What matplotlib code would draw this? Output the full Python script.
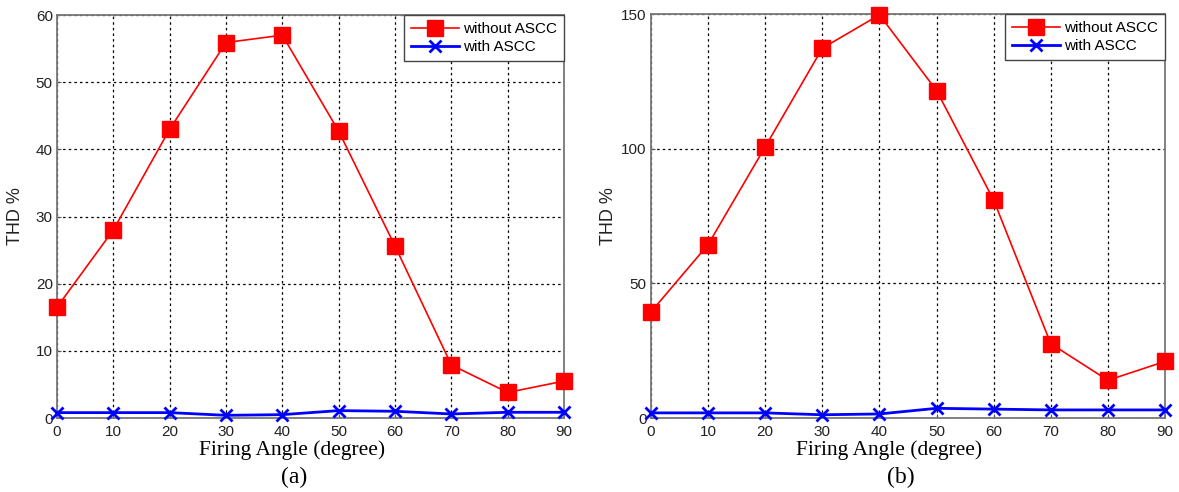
import matplotlib
matplotlib.use("Agg")
import matplotlib.pyplot as plt

angles = [0, 10, 20, 30, 40, 50, 60, 70, 80, 90]
a_without = [16.5, 28.0, 43.0, 55.9, 57.0, 42.7, 25.6, 7.9, 3.8, 5.5]
a_with = [0.8, 0.8, 0.8, 0.4, 0.5, 1.1, 1.0, 0.6, 0.85, 0.85]
b_without = [39.4, 64.4, 100.7, 137.3, 149.7, 121.6, 80.9, 27.6, 14.0, 21.0]
b_with = [1.9, 1.9, 1.9, 1.2, 1.5, 3.6, 3.3, 3.0, 3.0, 3.0]
a_yticks = [0, 10, 20, 30, 40, 50, 60]
b_yticks = [0, 50, 100, 150]
labels = ["without ASCC", "with ASCC"]
captions = ["(a)", "(b)"]
xlabel = "Firing Angle (degree)"
ylabel = "THD %"

sans = ["Liberation Sans", "DejaVu Sans"]
serif = ["Liberation Serif", "DejaVu Serif"]

fig = plt.figure(figsize=(11.79, 4.92), dpi=100)
axes = [fig.add_axes([0.04835, 0.1504, 0.43003, 0.8191]),
        fig.add_axes([0.55216, 0.1504, 0.43596, 0.8211])]

panels = [(a_without, a_with, a_yticks, 60),
          (b_without, b_with, b_yticks, 150)]
caption_x = [0.2494, 0.7642]

for ax, (wo, wi, yt, ymax), cap, cx in zip(axes, panels, captions, caption_x):
    ax.plot(angles, wo, color="red", lw=1.2, marker="s", ms=11,
            mfc="red", mec="red", label=labels[0], clip_on=False, zorder=4)
    ax.plot(angles, wi, color="blue", lw=2.0, marker="x", ms=9, mew=2,
            label=labels[1], clip_on=False, zorder=4)
    ax.set_xlim(0, 90)
    ax.set_ylim(0, ymax)
    ax.set_xticks(angles)
    ax.set_yticks(yt)
    ax.grid(True, color="black", linestyle=(0, (2, 2.5)), linewidth=0.9)
    ax.tick_params(axis="x", direction="in", length=3, pad=5, labelsize=11, color="#555555")
    ax.tick_params(axis="y", direction="in", length=3, pad=3, labelsize=11, color="#555555")
    for t in ax.get_xticklabels() + ax.get_yticklabels():
        t.set_family(sans)
        t.set_color("#222222")
    for s in ax.spines.values():
        s.set_color("#777777")
        s.set_linewidth(1.3)
    ax.set_xlabel(xlabel, family=serif, fontsize=15.5, va="center")
    ax.xaxis.set_label_coords(0.463, -0.0794)
    ax.set_ylabel(ylabel, family=sans, fontsize=13, color="#222222", va="center")
    ax.yaxis.set_label_coords(-0.082, 0.5)
    leg = ax.legend(loc="upper right", prop={"family": sans, "size": 11},
                    fancybox=False, edgecolor="#444444", framealpha=1,
                    borderaxespad=0, handlelength=3.1, handletextpad=0.3,
                    borderpad=0.45, labelspacing=0.3)
    leg.get_frame().set_linewidth(1.0)
    fig.text(cx, 0.0305, cap, ha="center", va="center", family=serif, fontsize=17)

fig.savefig("out.png", dpi=100)
